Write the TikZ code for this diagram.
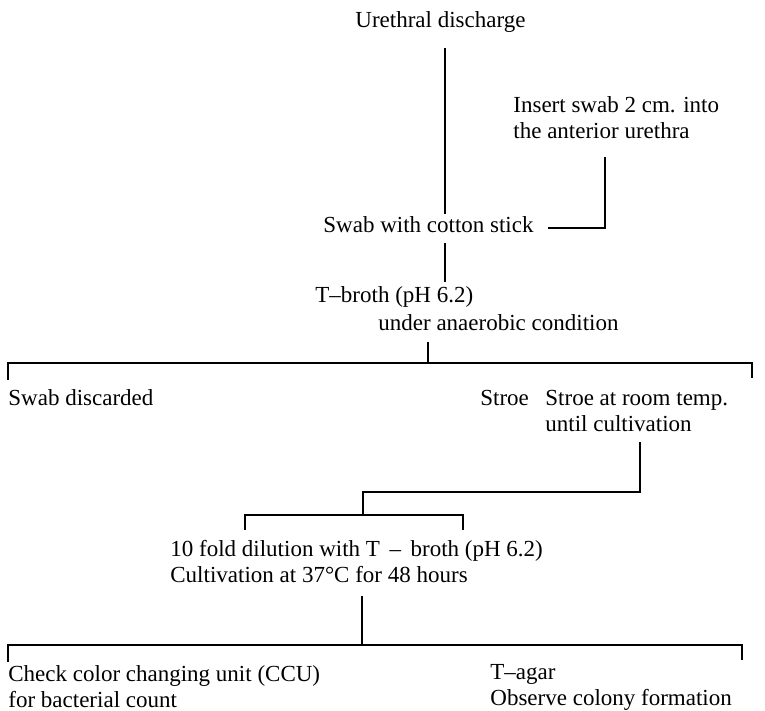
\documentclass[tikz,border=0pt]{standalone}
\usepackage{fontspec}
\setmainfont{Liberation Serif}
\usetikzlibrary{positioning,calc}
\tikzset{
  lbl/.style={anchor=west, inner sep=0pt, align=left, font=\fontsize{11.5}{13}\selectfont},
  lnk/.style={black, line width=1.1pt},
}

\begin{document}
\begin{tikzpicture}[x=0.5pt,y=-0.5pt]
  \useasboundingbox (0,0) rectangle (765,711);
  % texts
  \node[lbl] (ureth) at (355,22) {Urethral discharge};
  \node[lbl] (insert) at (513,118) {Insert swab 2 cm. into\\the anterior urethra};
  \node[lbl] (swab) at (323,225) {Swab with cotton stick};
  \node[lbl] (tbroth) at (315,297) {T--broth (pH 6.2)};
  \node[lbl] (anaer) at (378,323) {under anaerobic condition};
  \node[lbl] (discard) at (8,398) {Swab discarded};
  \node[lbl] (stroe) at (480,398) {Stroe};
  \node[lbl] (store) at (545,411) {Stroe at room temp.\\until cultivation};
  \node[lbl] (dilut) at (170,562) {10 fold dilution with T \,--\, broth (pH 6.2)\\Cultivation at 37°C for 48 hours};
  \node[lbl] (ccu) at (8,687) {Check color changing unit (CCU)\\for bacterial count};
  \node[lbl] (agar) at (490,687) {T--agar\\Observe colony formation};
  % junctions
  \coordinate (ax1) at (445,0);
  \coordinate (ax2) at (605,0);
  \coordinate (bus1) at (428,363);
  \coordinate (r1) at (752,378);
  \coordinate (ax4) at (640,0);
  \coordinate (bus2) at (363,492);
  \coordinate (bus3) at (363,515);
  \coordinate (l3) at (245,530);
  \coordinate (r3) at (463,530);
  \coordinate (bus4) at (362,645);
  \coordinate (r4) at (742,660);
  % connectors
  \draw[lnk] ([yshift=-7.8pt]ureth.south -| ax1) -- ([yshift=1.3pt]swab.north -| ax1);
  \draw[lnk] ([yshift=-9pt]insert.south -| ax2) |- ([xshift=7pt,yshift=-1.5pt]swab.east);
  \draw[lnk] ([yshift=-4.8pt]swab.south -| ax1) -- ([yshift=2.3pt]tbroth.north -| ax1);
  \draw[lnk] ([yshift=-5.5pt]anaer.south -| bus1) -- (bus1);
  \draw[lnk] ([yshift=4.8pt]discard.north west) |- (bus1) -| (r1);
  \draw[lnk] ([yshift=-5pt]store.south -| ax4) |- (bus2) -- (bus3);
  \draw[lnk] (l3) |- (bus3) -| (r3);
  \draw[lnk] ([yshift=-6pt]dilut.south -| bus4) -- (bus4);
  \draw[lnk] ([yshift=2pt]ccu.north west) |- (bus4) -| (r4);
\end{tikzpicture}
\end{document}
